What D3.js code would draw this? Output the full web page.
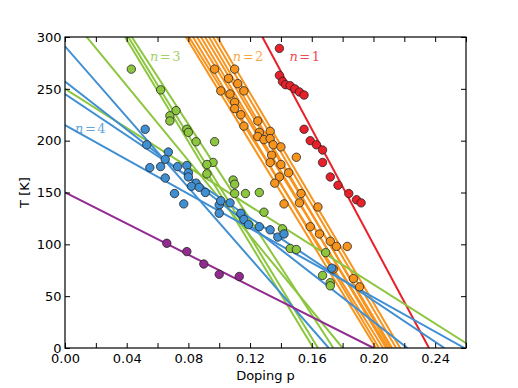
<!DOCTYPE html>
<html lang="en">
<head>
    <meta charset="UTF-8">
    <title>T vs doping</title>
    <script src="https://d3js.org/d3.v7.min.js"></script>
    <style>
        body { margin: 0; background: #fff; }
        svg { display: block; font-family: 'DejaVu Sans', sans-serif; }
        .nlabel { font-family: 'DejaVu Serif', serif; font-size: 13px; }
    </style>
</head>
<body>
    <svg width="518" height="388"></svg>

    <script>
        // measured points, [doping, T]
        const pointsN1 = [[0.139,289],[0.139,263],[0.141,257],[0.143,254],[0.146,253],[0.149,250],[0.152,247],[0.155,244],[0.155,211],[0.159,200],[0.163,196],[0.167,191],[0.167,179],[0.172,165],[0.177,157],[0.184,149],[0.189,143],[0.192,140]];
        const pointsN2 = [[0.097,269],[0.110,269],[0.106,260],[0.112,255],[0.101,248],[0.116,248],[0.107,245],[0.110,237],[0.110,231],[0.114,225],[0.116,214],[0.125,219],[0.126,208],[0.133,209],[0.125,204],[0.129,201],[0.133,202],[0.135,196],[0.140,194],[0.150,184],[0.134,186],[0.133,179],[0.140,177],[0.145,169],[0.139,165],[0.136,159],[0.153,149],[0.152,140],[0.142,139],[0.164,136],[0.159,117],[0.165,110],[0.172,103],[0.176,98],[0.183,98],[0.174,76],[0.187,67],[0.191,59]];
        const pointsN3 = [[0.043,269],[0.062,249],[0.072,229],[0.068,224],[0.068,219],[0.079,211],[0.080,208],[0.085,199],[0.097,199],[0.096,179],[0.092,177],[0.092,168],[0.109,162],[0.110,158],[0.110,149],[0.117,149],[0.126,150],[0.129,131],[0.141,115],[0.146,96],[0.150,95],[0.169,92],[0.167,70],[0.172,63],[0.172,60]];
        const pointsN4 = [[0.052,211],[0.053,196],[0.067,189],[0.065,182],[0.055,174],[0.062,175],[0.073,175],[0.079,176],[0.080,169],[0.080,165],[0.065,164],[0.085,159],[0.082,156],[0.087,155],[0.091,150],[0.071,149],[0.077,139],[0.100,138],[0.100,130],[0.101,142],[0.107,140],[0.114,130],[0.116,124],[0.119,119],[0.126,117],[0.133,114],[0.138,107],[0.142,110],[0.173,77]];
        const pointsN5 = [[0.066,101],[0.079,93],[0.090,81],[0.100,71],[0.113,69]];

        // linear fits, [T at p=0, p where T=0]
        const fitsN1 = [[655.6,0.236]];
        const fitsN2 = [[491.0,0.2017],[491.8,0.2062],[506.5,0.2036],[507.3,0.2095],[520.5,0.2082],[524.6,0.2121],[538.7,0.2108],[542.6,0.2147],[549.2,0.2173]];
        const fitsN3 = [[325.5,0.180],[395.7,0.161],[400.2,0.164],[399.5,0.174],[250,0.265]];
        const fitsN4 = [[291,0.171],[257,0.222],[245,0.246],[215,0.259]];
        const fitsN5 = [[150,0.200]];

        const xTicks = [0, 0.02, 0.04, 0.06, 0.08, 0.10, 0.12, 0.14, 0.16, 0.18, 0.20, 0.22, 0.24, 0.26];
        const yTicks = [0, 50, 100, 150, 200, 250, 300];

        const series = [
            {name: "1", color: "#e8202a", pts: pointsN1, fits: fitsN1, lx: 0.1455, ly: 277},
            {name: "2", color: "#f7941e", pts: pointsN2, fits: fitsN2, lx: 0.1088, ly: 277},
            {name: "3", color: "#8cc63f", pts: pointsN3, fits: fitsN3, lx: 0.0551, ly: 277},
            {name: "4", color: "#3f8fd2", pts: pointsN4, fits: fitsN4, lx: 0.0065, ly: 207},
            {name: "5", color: "#922b8f", pts: pointsN5, fits: fitsN5}
        ];

        const svg = d3.select("svg");
        const pl = 65, pr = 466, pt = 37, pb = 348;
        const x = d3.scaleLinear().domain([0, 0.26]).range([pl, pr]);
        const y = d3.scaleLinear().domain([0, 300]).range([pb, pt]);

        svg.append("clipPath").attr("id", "plot")
            .append("rect").attr("x", pl).attr("y", pt)
            .attr("width", pr - pl).attr("height", pb - pt);

        const plot = svg.append("g").attr("clip-path", "url(#plot)");

        series.forEach(s => {
            plot.selectAll(null)
                .data(s.fits)
                .enter().append("line")
                .attr("x1", x(0)).attr("y1", d => y(d[0]))
                .attr("x2", d => x(d[1])).attr("y2", y(0))
                .attr("stroke", s.color)
                .attr("stroke-width", 2);
        });

        series.forEach(s => {
            svg.selectAll(null)
                .data(s.pts)
                .enter().append("circle")
                .attr("cx", d => x(d[0]))
                .attr("cy", d => y(d[1]))
                .attr("r", 4.2)
                .attr("fill", s.color)
                .attr("stroke", "#222")
                .attr("stroke-width", 0.8);
        });

        // n labels
        series.filter(s => s.lx !== undefined).forEach(s => {
            const t = svg.append("text").attr("class", "nlabel")
                .attr("x", x(s.lx)).attr("y", y(s.ly))
                .attr("fill", s.color).attr("opacity", 0.8);
            t.append("tspan").attr("font-style", "italic").text("n");
            t.append("tspan").attr("dx", 1.5).text("=");
            t.append("tspan").attr("dx", 1.5).text(s.name);
        });

        // axes, ticks pointing inward on all four sides
        const fmt = d3.format(".2f");
        const xb = d3.axisBottom(x).tickValues(xTicks).tickSizeInner(-5).tickSizeOuter(0)
            .tickPadding(6).tickFormat(d => xTicks.indexOf(d) % 2 === 0 ? fmt(d) : "");
        const xt = d3.axisTop(x).tickValues(xTicks).tickSizeInner(-5).tickSizeOuter(0).tickFormat("");
        const yl = d3.axisLeft(y).tickValues(yTicks).tickSizeInner(-5).tickSizeOuter(0).tickPadding(3.5);
        const yr = d3.axisRight(y).tickValues(yTicks).tickSizeInner(-5).tickSizeOuter(0).tickFormat("");

        [[xb, `translate(0,${pb})`], [xt, `translate(0,${pt})`],
         [yl, `translate(${pl},0)`], [yr, `translate(${pr},0)`]].forEach(([ax, tr]) => {
            const g = svg.append("g").attr("transform", tr).call(ax);
            g.select(".domain").remove();
            g.selectAll(".tick line").attr("stroke", "#000").attr("stroke-width", 1);
            g.selectAll(".tick text").attr("font-size", 13)
                .attr("font-family", "DejaVu Sans").attr("fill", "#000");
        });

        svg.append("rect").attr("x", pl).attr("y", pt)
            .attr("width", pr - pl).attr("height", pb - pt)
            .attr("fill", "none").attr("stroke", "#000").attr("stroke-width", 1.2);

        svg.append("text").attr("x", (pl + pr) / 2).attr("y", 380)
            .attr("text-anchor", "middle").attr("font-size", 13).text("Doping p");
        svg.append("text").attr("transform", `translate(29,${(pt + pb) / 2}) rotate(-90)`)
            .attr("text-anchor", "middle").attr("font-size", 13).text("T [K]");
    </script>
</body>
</html>
